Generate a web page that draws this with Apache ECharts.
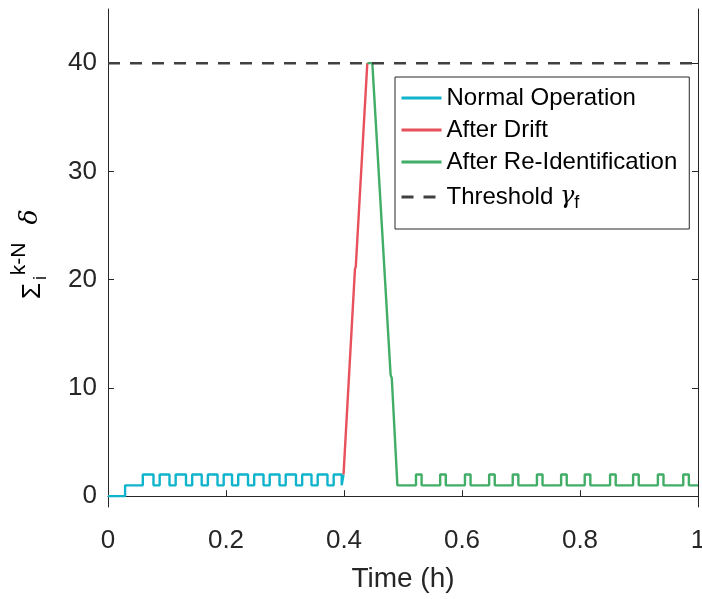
<!DOCTYPE html>
<html><head><meta charset="utf-8">
<script src="https://cdn.jsdelivr.net/npm/echarts@6/dist/echarts.min.js"></script>
<style>html,body{margin:0;padding:0;background:#fff}#c{width:702px;height:599px}</style>
</head><body><div id="c"></div>
<script>
const seriesNames = ['Normal Operation', 'After Drift', 'After Re-Identification', 'Threshold'];
// Normal operation: change points (value held until next point)
const normalT = [0, 0.029, 0.059,
  0.0771, 0.0876, 0.1042, 0.1147, 0.1322, 0.1427, 0.1588, 0.1693, 0.1856, 0.1961,
  0.2102, 0.2207, 0.2373, 0.2478, 0.2636, 0.2741, 0.2907, 0.3012, 0.3186, 0.3291,
  0.3449, 0.3554, 0.3720, 0.3825, 0.3961, 0.3992];
const normalV = [0, 1, 2,
  1, 2, 1, 2, 1, 2, 1, 2, 1, 2,
  1, 2, 1, 2, 1, 2, 1, 2, 1, 2,
  1, 2, 1, 2, 1, 2];
// After drift: ramp
const driftT = [0.3992, 0.4186, 0.4200, 0.4395];
const driftV = [2, 21.0, 21.2, 40];
// After re-identification: ramp down, then change points
const reidRampT = [0.4395, 0.448, 0.4790, 0.4810, 0.4905];
const reidRampV = [40, 40, 11.2, 10.9, 1];
const reidStepT = [0.4905, 0.522, 0.5315, 0.563, 0.5725, 0.605, 0.6145, 0.646, 0.6555,
  0.686, 0.6955, 0.727, 0.7365, 0.768, 0.7775, 0.808, 0.8175, 0.851, 0.8605,
  0.890, 0.8995, 0.932, 0.9415, 0.975, 0.9845, 1.0];
const reidStepV = [1, 2, 1, 2, 1, 2, 1, 2, 1,
  2, 1, 2, 1, 2, 1, 2, 1, 2, 1,
  2, 1, 2, 1, 2, 1, 1];
const thresholdT = [0, 1];
const thresholdV = [40, 40];
const xTickValues = [0, 0.2, 0.4, 0.6, 0.8, 1];
const yTickValues = [0, 10, 20, 30, 40];

function stairs(t, v) {
  const out = [];
  for (let i = 0; i < t.length; i++) {
    if (i > 0) out.push([t[i], v[i - 1]]);
    out.push([t[i], v[i]]);
  }
  return out;
}
function pairs(t, v) { return t.map((x, i) => [x, v[i]]); }

const FONT = 'Liberation Sans';
const AX = '#262626';
const chart = echarts.init(document.getElementById('c'), null, {renderer: 'canvas'});
const lw = 2.4;
chart.setOption({
  animation: false,
  backgroundColor: '#fff',
  grid: {left: 108, right: 4, top: 9, bottom: 92, containLabel: false, outerBoundsMode: 'none'},
  xAxis: {
    type: 'value', min: 0, max: 1, interval: 0.2,
    name: 'Time (h)', nameLocation: 'middle', nameGap: 58,
    nameTextStyle: {fontFamily: FONT, fontSize: 28, color: AX},
    axisLine: {show: true, lineStyle: {color: AX, width: 1}},
    axisTick: {show: true, inside: true, length: 6, lineStyle: {color: AX}, customValues: xTickValues},
    axisLabel: {fontFamily: FONT, fontSize: 26, color: AX, margin: 21, customValues: xTickValues,
      formatter: v => String(v)},
    splitLine: {show: false}
  },
  yAxis: [{
    type: 'value', min: -1, max: 45, position: 'left',
    axisLine: {show: true, lineStyle: {color: AX, width: 1}},
    axisTick: {show: true, inside: true, length: 6, lineStyle: {color: AX}, customValues: yTickValues},
    axisLabel: {fontFamily: FONT, fontSize: 26, color: AX, margin: 11, customValues: yTickValues},
    splitLine: {show: false}
  }, {
    type: 'value', min: -1, max: 45, position: 'right',
    axisLine: {show: true, lineStyle: {color: AX, width: 1}},
    axisTick: {show: true, inside: true, length: 6, lineStyle: {color: AX}, customValues: yTickValues},
    axisLabel: {show: false},
    splitLine: {show: false}
  }],
  legend: {
    data: seriesNames, orient: 'vertical', left: 395, top: 77,
    itemWidth: 40, itemHeight: 12, itemGap: 8,
    itemStyle: {opacity: 0},
    lineStyle: {width: 3},
    padding: [9, 12, 17, 5],
    borderColor: AX, borderWidth: 1, backgroundColor: '#fff',
    textStyle: {fontFamily: FONT, fontSize: 24, color: '#000', lineHeight: 24,
      rich: {
        g: {fontFamily: 'DejaVu Serif', fontStyle: 'italic', fontSize: 24, color: '#000', lineHeight: 24},
        f: {fontFamily: FONT, fontSize: 18, color: '#000', padding: [12, 0, 0, 0], lineHeight: 12}
      }},
    formatter: n => n === 'Threshold' ? 'Threshold {g|γ}{f|f}' : n
  },
  series: [
    {name: seriesNames[0], type: 'line', symbol: 'none', data: stairs(normalT, normalV),
      lineStyle: {color: '#0fb4cc', width: lw}, itemStyle: {color: '#0fb4cc'}, z: 3},
    {name: seriesNames[1], type: 'line', symbol: 'none', data: pairs(driftT, driftV),
      lineStyle: {color: '#e8505b', width: lw}, itemStyle: {color: '#e8505b'}, z: 3},
    {name: seriesNames[2], type: 'line', symbol: 'none',
      data: pairs(reidRampT, reidRampV).concat(stairs(reidStepT, reidStepV).slice(1)),
      lineStyle: {color: '#41ad66', width: lw}, itemStyle: {color: '#41ad66'}, z: 3},
    {name: seriesNames[3], type: 'line', symbol: 'none', data: pairs(thresholdT, thresholdV),
      lineStyle: {color: '#404040', width: 2.5, type: [12, 10]}, itemStyle: {color: '#404040'}, z: 4}
  ],
  graphic: [
    {type: 'text', x: 33, y: 291, rotation: Math.PI / 2,
      style: {text: 'Σ', font: '26px "Liberation Sans"', fill: '#000', align: 'center', verticalAlign: 'middle'}},
    {type: 'text', x: 19.5, y: 259, rotation: Math.PI / 2,
      style: {text: 'k-N', font: '21px "Liberation Sans"', fill: '#000', align: 'center', verticalAlign: 'middle'}},
    {type: 'text', x: 41.5, y: 278, rotation: Math.PI / 2,
      style: {text: 'i', font: '18px "Liberation Sans"', fill: '#000', align: 'center', verticalAlign: 'middle'}},
    {type: 'text', x: 30, y: 217, rotation: Math.PI / 2,
      style: {text: 'δ', font: 'italic 25px "DejaVu Serif"', fill: '#000', align: 'center', verticalAlign: 'middle'}}
  ]
});
</script></body></html>
